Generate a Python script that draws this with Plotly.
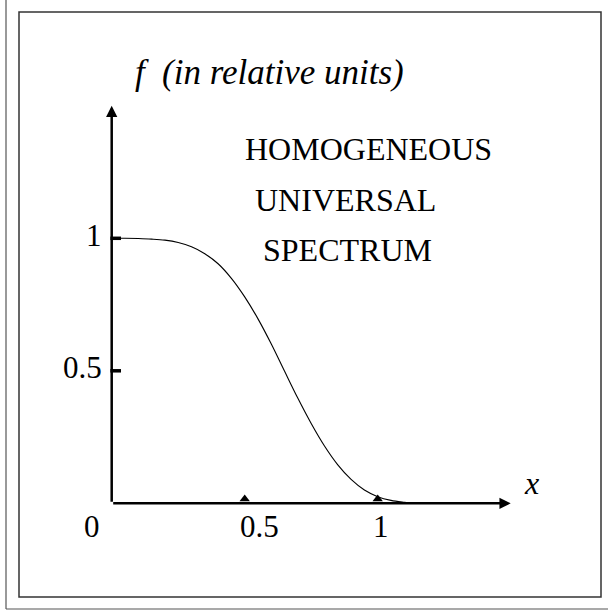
import plotly.graph_objects as go

# spectrum curve
x_vals = [0, 0.05, 0.1, 0.15, 0.2, 0.25, 0.3, 0.35, 0.4, 0.45, 0.5, 0.55, 0.6,
          0.65, 0.7, 0.75, 0.8, 0.85, 0.9, 0.95, 1.0, 1.05, 1.1, 1.12]
f_vals = [1.0, 1.0, 0.999, 0.997, 0.993, 0.984, 0.968, 0.942, 0.904, 0.849,
          0.779, 0.696, 0.601, 0.498, 0.396, 0.301, 0.216, 0.145, 0.090, 0.050,
          0.025, 0.011, 0.004, 0.002]

x_ticks = [0.5, 1]
x_tick_labels = ["0.5", "1"]
y_ticks = [0.5, 1]
y_tick_labels = ["0.5", "1"]
axis_end = 1.5
words = ["HOMOGENEOUS", "UNIVERSAL", "SPECTRUM"]

W, H = 608, 613
serif = "Liberation Serif"

fig = go.Figure()
fig.add_trace(go.Scatter(x=x_vals, y=f_vals, mode="lines", line_shape="spline",
                         line=dict(color="black", width=1.1, smoothing=1),
                         hoverinfo="skip"))

# little triangles on the x axis
fig.add_trace(go.Scatter(x=x_ticks, y=[0.016] * len(x_ticks), mode="markers",
                         marker=dict(symbol="triangle-up", size=9, color="black"),
                         hoverinfo="skip"))

ann = []
# axes with arrows
for tip in [(axis_end, 0), (0, axis_end)]:
    ann.append(dict(x=tip[0], y=tip[1], ax=0, ay=0, xref="x", yref="y", axref="x",
                    ayref="y", showarrow=True, arrowhead=2, arrowsize=0.9,
                    arrowwidth=2.5, arrowcolor="black", text=""))

tick_font = dict(family=serif, size=31, color="black")
for t, lab in zip(y_ticks, y_tick_labels):
    ann.append(dict(x=0, y=t, text=lab, showarrow=False, xanchor="right", yanchor="middle",
                    xshift=-8, yshift=3, font=tick_font))
for t, lab in zip(x_ticks, x_tick_labels):
    ann.append(dict(x=t, y=0, text=lab, showarrow=False, xanchor="center", yanchor="top",
                    xshift=15 if lab == "0.5" else 3, yshift=-4, font=tick_font))
ann.append(dict(x=0, y=0, text="0", showarrow=False, xanchor="right", yanchor="top",
                xshift=-10, yshift=-4, font=tick_font))

label_font = dict(family=serif, size=35, color="black")
ann.append(dict(x=0.08, y=1.625, text="<i>f</i>", showarrow=False, xanchor="left",
                yanchor="middle", font=label_font))
ann.append(dict(x=0.18, y=1.625, text="<i>(in relative units)</i>", showarrow=False,
                xanchor="left", yanchor="middle", font=label_font))
ann.append(dict(x=1.58, y=0.077, text="<i>x</i>", showarrow=False, xanchor="center",
                yanchor="middle", font=dict(family=serif, size=32, color="black")))

for word, wx, wy in zip(words, [0.495, 0.53, 0.56], [1.337, 1.145, 0.956]):
    ann.append(dict(x=wx, y=wy, text=word, showarrow=False, xanchor="left",
                    yanchor="middle", font=dict(family=serif, size=32, color="black")))

shapes = []
for t in y_ticks:
    shapes.append(dict(type="line", xref="x", yref="y", x0=-0.005, x1=0.035, y0=t, y1=t,
                       line=dict(color="black", width=3.5)))
# frames
shapes.append(dict(type="rect", xref="paper", yref="paper",
                   x0=19 / W, x1=601 / W, y0=1 - 597 / H, y1=1 - 12 / H,
                   line=dict(color="#333333", width=1.5)))
shapes.append(dict(type="line", xref="paper", yref="paper", x0=6 / W, x1=6 / W,
                   y0=1 - 609 / H, y1=1.0, line=dict(color="#555555", width=1.2)))
shapes.append(dict(type="line", xref="paper", yref="paper", x0=6 / W, x1=1.0,
                   y0=1 - 609 / H, y1=1 - 609 / H, line=dict(color="#555555", width=1.2)))

ox, oy, sx, sy = 111.7, 503.3, 266.0, 265.0
fig.update_layout(
    width=W, height=H, margin=dict(l=0, r=0, t=0, b=0),
    paper_bgcolor="white", plot_bgcolor="white", showlegend=False,
    xaxis=dict(range=[-ox / sx, (W - ox) / sx], visible=False, fixedrange=True),
    yaxis=dict(range=[(oy - H) / sy, oy / sy], visible=False, fixedrange=True),
    annotations=ann, shapes=shapes,
)

fig.write_html("out.html", config=dict(displayModeBar=False),
               post_script="document.body.style.margin='0';"
                           "document.body.style.overflow='hidden';")
